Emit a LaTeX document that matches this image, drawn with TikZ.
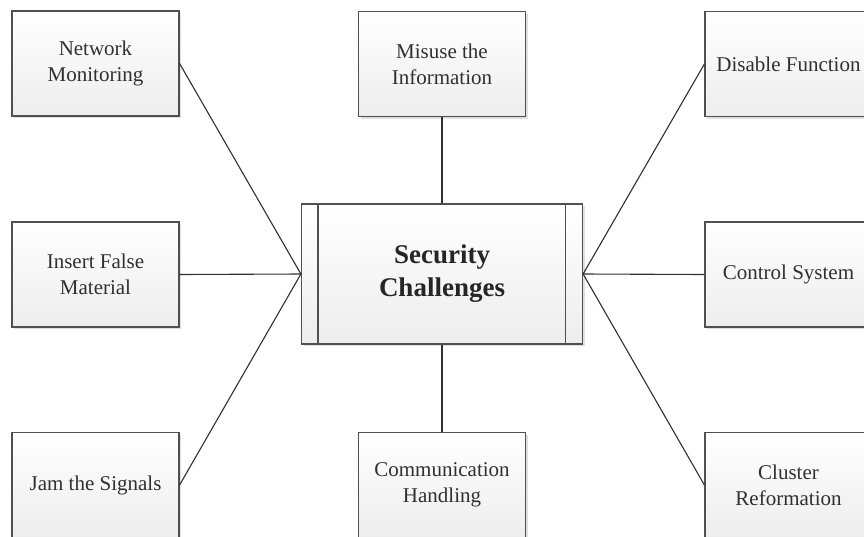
\documentclass[tikz,border=0pt]{standalone}
\usepackage{fontspec}
\setmainfont{Liberation Serif}
\usetikzlibrary{shadows}
\definecolor{bordergray}{HTML}{505050}
\definecolor{textgray}{HTML}{303030}
\definecolor{linegray}{HTML}{303030}
\begin{document}
\begin{tikzpicture}[x=1pt,y=-1pt,
  box/.style={draw=bordergray, line width=1.2pt, top color=white, bottom color=black!7,
    drop shadow={shadow xshift=2pt, shadow yshift=-2pt, fill=black, opacity=0.12},
    minimum width=167pt, minimum height=105pt, inner sep=0pt, align=center,
    font=\fontsize{21}{26}\selectfont, text=textgray},
  mainbox/.style={box, minimum width=281pt, minimum height=140pt,
    font=\bfseries\fontsize{27}{33}\selectfont, text=black!85},
  link/.style={draw=linegray, line width=1.1pt}]
\useasboundingbox (0,0) rectangle (864,536);
\clip (0,0) rectangle (864,536);
% center
\node[mainbox] (c) at (442,274) {Security\\Challenges};
\draw[bordergray, line width=1.2pt] ([xshift=17pt]c.north west) -- ([xshift=17pt]c.south west);
\draw[bordergray, line width=1.2pt] ([xshift=-18pt]c.north east) -- ([xshift=-18pt]c.south east);
% outer boxes
\node[box] (nm) at (95.5,63.5) {Network\\Monitoring};
\node[box] (mi) at (442,64) {Misuse the\\Information};
\node[box] (df) at (788.5,64) {Disable Function};
\node[box] (if) at (95.5,274.5) {Insert False\\Material};
\node[box] (cs) at (788.5,274.5) {Control System};
\node[box] (js) at (95.5,485) {Jam the Signals};
\node[box] (ch) at (442,485) {Communication\\Handling};
\node[box] (cr) at (788.5,485) {Cluster\\Reformation};
% connectors
\draw[link] (nm.east) -- (c.west);
\draw[link] (if.east) -- (c.west);
\draw[link] (js.east) -- (c.west);
\draw[link] (mi.south) -- (c.north);
\draw[link] (ch.north) -- (c.south);
\draw[link] (df.west) -- (c.east);
\draw[link] (cs.west) -- (c.east);
\draw[link] (cr.west) -- (c.east);
\end{tikzpicture}
\end{document}
